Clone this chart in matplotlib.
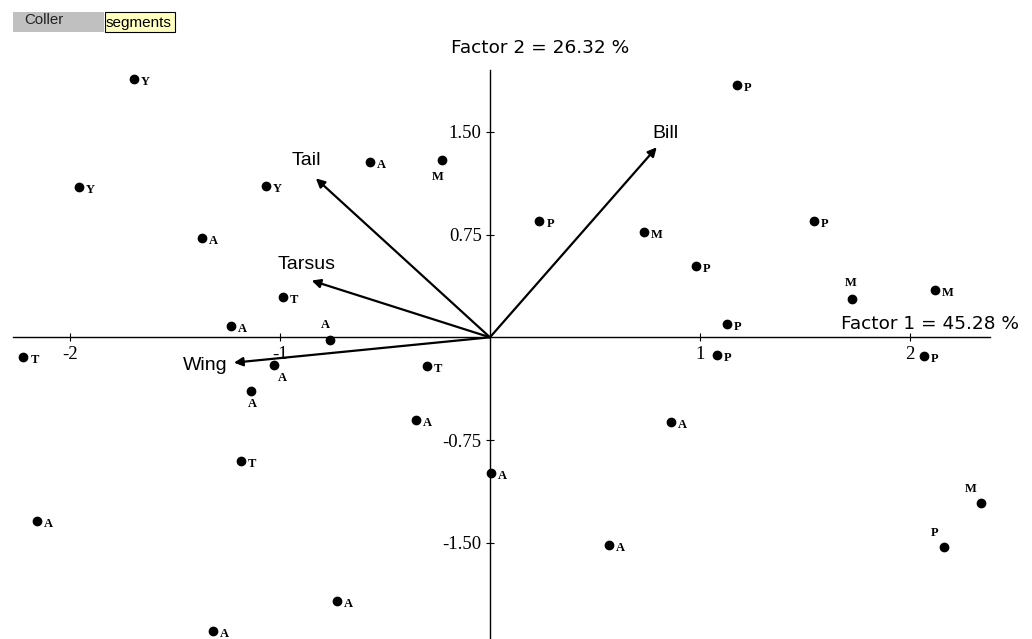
import matplotlib
matplotlib.use("Agg")
from matplotlib import pyplot as plt
from matplotlib.patches import Rectangle

# group label of each bird and its scores on factor 1 / factor 2
groups = ["Y", "P", "A", "M", "Y", "Y", "P", "P", "A", "M", "P", "M", "M", "T", "A", "P", "A",
          "T", "P", "P", "A", "T", "A", "A", "A", "T", "A", "M", "A", "A", "P", "A", "A"]
f1 = [-1.694, 1.176, -0.571, -0.226, -1.957, -1.068, 0.235, 1.543, -1.371, 0.733, 0.981, 1.726,
      2.117, -0.986, -1.235, 1.129, -0.762, -2.222, 1.081, 2.067, -1.029, -0.30, -1.138, -0.352,
      0.862, -1.186, 0.005, 2.336, -2.159, 0.567, 2.162, -0.729, -1.321]
f2 = [1.885, 1.84, 1.28, 1.294, 1.097, 1.104, 0.847, 0.847, 0.727, 0.766, 0.523, 0.28,
      0.343, 0.296, 0.082, 0.10, -0.02, -0.146, -0.127, -0.139, -0.20, -0.21, -0.39, -0.60,
      -0.62, -0.90, -0.99, -1.207, -1.34, -1.516, -1.533, -1.925, -2.14]

# variable loadings (arrows)
variables = ["Bill", "Tail", "Tarsus", "Wing"]
load1 = [0.794, -0.829, -0.849, -1.219]
load2 = [1.387, 1.16, 0.414, -0.185]

xticks = [-2, -1, 1, 2]
yticks = [-1.50, -0.75, 0.75, 1.50]
factor1_pct = 45.28
factor2_pct = 26.32

# labels not drawn to the right of their point (offset in pixels)
special = {16: (-5, 15, "center"), 3: (-5, -17, "center"), 20: (9, -13, "center"),
           22: (1, -13, "center"), 11: (-2, 16, "center"), 27: (-10, 14, "center"),
           30: (-9, 14, "center")}

fig = plt.figure(figsize=(10.32, 6.39), dpi=100)
ax = fig.add_axes([0, 0, 1, 1])
ax.set_xlim(-2.333, 2.581)
ax.set_ylim(-2.202, 2.462)

for s in ["top", "right"]:
    ax.spines[s].set_visible(False)
ax.spines["left"].set_position("zero")
ax.spines["bottom"].set_position("zero")
ax.spines["bottom"].set_bounds(-2.27, 2.38)
ax.spines["left"].set_bounds(-2.21, 1.95)
for s in ["left", "bottom"]:
    ax.spines[s].set_linewidth(1.0)
ax.set_xticks(xticks)
ax.set_xticklabels([str(t) for t in xticks])
ax.set_yticks(yticks)
ax.set_yticklabels(["%.2f" % t for t in yticks])
ax.tick_params(direction="inout", length=6, width=0.8, labelsize=13.5)
ax.tick_params(axis="x", pad=3)
ax.tick_params(axis="y", pad=3)
for lab in ax.get_xticklabels() + ax.get_yticklabels():
    lab.set_fontfamily("Liberation Serif")

# points
ax.plot(f1, f2, "o", color="black", ms=6, ls="none")
for i, (g, x, y) in enumerate(zip(groups, f1, f2)):
    if i in special:
        dx, dy, ha = special[i]
    else:
        dx, dy, ha = 7, -3, "left"
    ax.annotate(g, (x, y), xytext=(dx, dy), textcoords="offset pixels", ha=ha, va="center",
                fontsize=9, fontweight="bold", fontfamily="Liberation Serif")

# arrows
lab_off = {"Bill": (9, 14, "center"), "Tail": (-9, 18, "center"),
           "Tarsus": (-5, 16, "center"), "Wing": (-6, -3, "right")}
for v, x, y in zip(variables, load1, load2):
    ax.annotate("", xy=(x, y), xytext=(0, 0),
                arrowprops=dict(arrowstyle="-|>", lw=1.6, color="black", mutation_scale=13,
                                shrinkA=0, shrinkB=0))
    dx, dy, ha = lab_off[v]
    ax.annotate(v, (x, y), xytext=(dx, dy), textcoords="offset pixels", ha=ha, va="center",
                fontsize=14, fontfamily="Liberation Sans")

ax.text(0.24, 2.11, "Factor 2 = %.2f %%" % factor2_pct, ha="center", va="center", fontsize=13.3)
ax.text(2.52, 0.095, "Factor 1 = %.2f %%" % factor1_pct, ha="right", va="center", fontsize=13.3)

# buttons top left
fig.patches.append(Rectangle((13 / 1032, 1 - 32 / 639), 91 / 1032, 20 / 639,
                             transform=fig.transFigure, facecolor="#c0c0c0", edgecolor="none"))
fig.patches.append(Rectangle((105 / 1032, 1 - 32 / 639), 70 / 1032, 20 / 639,
                             transform=fig.transFigure, facecolor="#ffffc0", edgecolor="black", lw=0.8))
fig.text(24 / 1032, 1 - 20 / 639, "Coller", fontsize=10.8, va="center", color="#222222",
         fontfamily="Liberation Sans")
fig.text(106 / 1032, 1 - 23 / 639, "segments", fontsize=11, va="center", fontfamily="Liberation Sans")

plt.savefig("out.png", dpi=100)
